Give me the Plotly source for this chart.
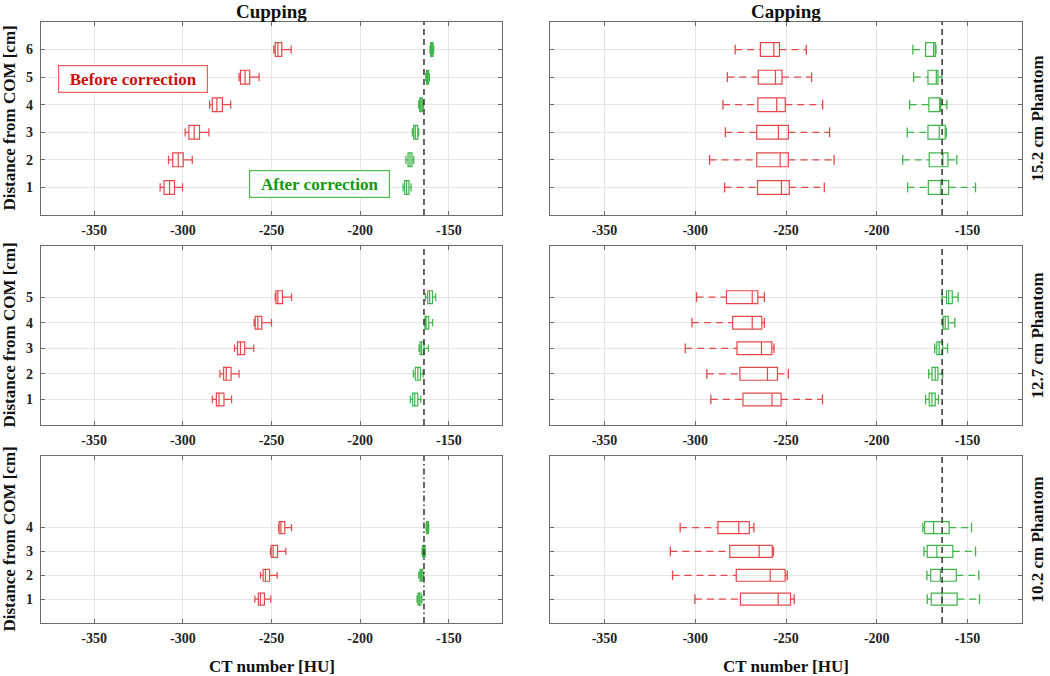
import plotly.graph_objects as go

# ---------------- data (HU): rows = distance from COM 1..n, tuples = (low whisker, q1, median, q3, high whisker)
cup152_before = [(-312.8, -310.6, -307.5, -304.7, -300.2), (-308.1, -305.7, -302.6, -299.8, -294.7),
                 (-298.7, -296.6, -293.6, -290.6, -285.3), (-284.9, -283.4, -280.8, -277.7, -273.0),
                 (-268.3, -267.5, -264.9, -262.3, -257.0), (-248.7, -247.9, -246.4, -244.2, -238.9)]
cup152_after = [(-175.8, -174.9, -173.8, -172.5, -171.3), (-174.2, -173.0, -171.9, -170.8, -169.8),
                (-170.6, -169.8, -168.9, -167.5, -167.0), (-167.0, -166.4, -165.7, -164.9, -164.2),
                (-163.0, -162.6, -162.1, -161.3, -160.9), (-160.6, -160.2, -159.6, -158.9, -158.5)]
cap152_before = [(-283.8, -265.7, -252.5, -248.2, -228.9), (-292.1, -266.1, -253.2, -248.7, -223.5),
                 (-283.4, -266.1, -254.2, -248.7, -226.0), (-284.7, -265.5, -255.1, -250.4, -229.8),
                 (-282.3, -265.3, -255.8, -252.2, -235.9), (-278.0, -264.1, -256.7, -253.6, -238.8)]
cap152_after = [(-183.0, -171.6, -164.7, -160.4, -145.6), (-185.7, -171.1, -163.6, -160.8, -155.9),
                (-183.2, -171.8, -165.6, -162.3, -161.7), (-181.9, -171.3, -165.4, -164.7, -161.4),
                (-179.7, -171.8, -167.2, -166.3, -164.1), (-180.1, -173.1, -168.7, -167.8, -167.4)]

cup127_before = [(-283.4, -281.1, -279.6, -276.8, -272.5), (-279.1, -277.0, -275.5, -272.8, -268.3),
                 (-270.9, -269.2, -267.5, -265.1, -260.0), (-259.8, -259.2, -257.7, -255.5, -250.0),
                 (-247.9, -247.5, -246.4, -243.8, -238.7)]
cup127_after = [(-171.7, -170.4, -169.2, -167.5, -165.8), (-170.0, -168.9, -167.5, -166.0, -164.5),
                (-166.8, -166.2, -165.3, -164.0, -161.5), (-163.8, -163.4, -162.8, -161.3, -159.1),
                (-163.2, -161.9, -160.8, -159.2, -157.4)]
cap127_before = [(-291.4, -273.7, -257.7, -252.7, -229.9), (-293.6, -275.4, -260.2, -254.7, -248.7),
                 (-305.5, -277.0, -263.5, -257.8, -256.6), (-301.8, -279.4, -268.6, -263.3, -261.9),
                 (-299.3, -282.8, -268.6, -265.5, -261.9)]
cap127_after = [(-173.1, -171.1, -169.6, -167.8, -166.0), (-171.4, -169.6, -167.8, -166.3, -163.7),
                (-168.1, -166.9, -165.6, -163.7, -161.0), (-163.6, -163.4, -162.3, -160.6, -157.0),
                (-164.0, -161.6, -160.4, -158.4, -155.2)]

cup102_before = [(-259.4, -257.4, -256.2, -254.0, -250.4), (-256.2, -254.7, -253.4, -251.1, -246.8),
                 (-250.6, -250.2, -249.1, -246.6, -241.9), (-246.0, -245.7, -244.7, -242.5, -238.7)]
cup102_after = [(-167.9, -167.4, -166.6, -165.7, -165.1), (-167.0, -166.2, -165.5, -164.7, -164.2),
                (-165.1, -164.7, -164.2, -163.4, -163.2), (-162.8, -162.6, -162.1, -161.5, -161.3)]
cap102_before = [(-300.2, -275.1, -254.3, -247.5, -245.5), (-312.5, -277.4, -258.7, -250.5, -249.3),
                 (-313.7, -281.0, -264.8, -257.6, -256.9), (-308.3, -287.5, -276.0, -270.2, -267.7)]
cap102_after = [(-172.2, -170.0, -164.1, -155.7, -143.4), (-172.4, -170.3, -165.0, -156.2, -143.8),
                (-174.0, -172.2, -166.9, -158.1, -145.6), (-174.6, -173.6, -168.7, -160.1, -147.8)]

reference_hu = -164.0
x_tickvals = [-350, -300, -250, -200, -150]
x_ticklabels = ["-350", "-300", "-250", "-200", "-150"]
column_titles = ["Cupping", "Capping"]
row_titles = ["15.2 cm Phantom", "12.7 cm Phantom", "10.2 cm Phantom"]
x_title = "CT number [HU]"
y_title = "Distance from COM [cm]"

# ---------------- styling / layout (pixel geometry of the 1050x676 canvas)
W, H = 1050, 676
RED = "#e5474a"
GREEN = "#3fb449"
FONT = "Liberation Serif"


def px_x(p):
    return p / W


def px_y(p):
    return 1 - p / H


X_DOMAINS = [[px_x(41), px_x(502)], [px_x(550), px_x(1022)]]
Y_DOMAINS = [[px_y(215), px_y(22)], [px_y(425), px_y(246)], [px_y(623), px_y(456)]]

panels = [
    [(cup152_before, cup152_after), (cap152_before, cap152_after)],
    [(cup127_before, cup127_after), (cap127_before, cap127_after)],
    [(cup102_before, cup102_after), (cap102_before, cap102_after)],
]

fig = go.Figure()


def add_series(stats, color, k, dashed):
    xa = "x" if k == 1 else f"x{k}"
    ya = "y" if k == 1 else f"y{k}"
    pos = list(range(1, len(stats) + 1))
    lo = [s[0] for s in stats]
    q1 = [s[1] for s in stats]
    med = [s[2] for s in stats]
    q3 = [s[3] for s in stats]
    hi = [s[4] for s in stats]
    if not dashed:
        fig.add_trace(go.Box(y=pos, q1=q1, median=med, q3=q3, lowerfence=lo, upperfence=hi,
                             orientation="h", width=0.5, whiskerwidth=0.6, boxpoints=False,
                             line=dict(color=color, width=1.2), fillcolor="rgba(0,0,0,0)",
                             xaxis=xa, yaxis=ya, hoverinfo="skip", showlegend=False))
        return
    fig.add_trace(go.Box(y=pos, q1=q1, median=med, q3=q3, lowerfence=q1, upperfence=q3,
                         orientation="h", width=0.5, whiskerwidth=0, boxpoints=False,
                         line=dict(color=color, width=1.2), fillcolor="rgba(0,0,0,0)",
                         xaxis=xa, yaxis=ya, hoverinfo="skip", showlegend=False))
    wx, wy = [], []
    for p, a, b, c, d in zip(pos, lo, q1, q3, hi):
        wx += [a, b, None, c, d, None]
        wy += [p, p, None, p, p, None]
    fig.add_trace(go.Scatter(x=wx, y=wy, mode="lines", line=dict(color=color, width=1.3, dash="7px,5px"),
                             xaxis=xa, yaxis=ya, hoverinfo="skip", showlegend=False))
    fig.add_trace(go.Scatter(x=lo + hi, y=pos + pos, mode="markers",
                             marker=dict(symbol="line-ns", size=7, line=dict(color=color, width=1.3)),
                             xaxis=xa, yaxis=ya, hoverinfo="skip", showlegend=False))


layout_axes = {}
for r in range(3):
    for c in range(2):
        k = r * 2 + c + 1
        before, after = panels[r][c]
        dashed = (c == 1)
        add_series(before, RED, k, dashed)
        add_series(after, GREEN, k, dashed)
        xa = "x" if k == 1 else f"x{k}"
        ya = "y" if k == 1 else f"y{k}"
        fig.add_trace(go.Scatter(x=[reference_hu, reference_hu], y=[0, 7], mode="lines",
                                 line=dict(color="#333333", width=1.5,
                                           dash="6px,3px,1.5px,3px" if (r == 2 and c == 0) else "6px,4px"),
                                 xaxis=xa, yaxis=ya, hoverinfo="skip", showlegend=False))
        n = len(before)
        axis_common = dict(showline=True, linecolor="#6b6b6b", linewidth=1.3, mirror="ticks",
                           ticks="inside", ticklen=4, tickcolor="#6b6b6b", showgrid=True,
                           gridcolor="#e4e4e4", gridwidth=1, zeroline=False,
                           tickfont=dict(family=FONT, size=14, color="#222222", weight="bold"))
        layout_axes["xaxis" if k == 1 else f"xaxis{k}"] = dict(
            domain=X_DOMAINS[c], range=[-380, -120], tickvals=x_tickvals, ticktext=x_ticklabels,
            anchor=ya, ticklabelstandoff=2, **axis_common)
        layout_axes["yaxis" if k == 1 else f"yaxis{k}"] = dict(
            domain=Y_DOMAINS[r], range=[0, 7], tickvals=list(range(1, n + 1)),
            showticklabels=(c == 0), anchor=xa, ticklabelstandoff=4, **axis_common)

fig.update_layout(width=W, height=H, margin=dict(l=0, r=0, t=0, b=0),
                  paper_bgcolor="white", plot_bgcolor="white", showlegend=False,
                  boxmode="overlay", **layout_axes)

ann = []
title_font = dict(family=FONT, size=19, color="#111111", weight="bold")
label_font = dict(family=FONT, size=17, color="#111111", weight="bold")
for c in range(2):
    xc = (X_DOMAINS[c][0] + X_DOMAINS[c][1]) / 2
    ann.append(dict(text=column_titles[c], x=xc, y=px_y(11), xref="paper", yref="paper",
                    showarrow=False, font=title_font, xanchor="center", yanchor="middle"))
    ann.append(dict(text=x_title, x=xc, y=px_y(666), xref="paper", yref="paper",
                    showarrow=False, font=label_font, xanchor="center", yanchor="middle"))
for r in range(3):
    yc = (Y_DOMAINS[r][0] + Y_DOMAINS[r][1]) / 2
    ann.append(dict(text=y_title, x=px_x(9), y=yc, xref="paper", yref="paper", textangle=-90,
                    showarrow=False, font=label_font, xanchor="center", yanchor="middle"))
    ann.append(dict(text=row_titles[r], x=px_x(1037), y=yc, xref="paper", yref="paper", textangle=-90,
                    showarrow=False, font=label_font, xanchor="center", yanchor="middle"))

ann.append(dict(text="Before correction", x=-327.9, y=4.93, xref="x", yref="y", showarrow=False,
                font=dict(family=FONT, size=17, color="#cc1010", weight="bold"),
                bordercolor="#e86060", borderwidth=1.2, bgcolor="white", width=144, height=22, borderpad=2))
ann.append(dict(text="After correction", x=-223.1, y=1.12, xref="x", yref="y", showarrow=False,
                font=dict(family=FONT, size=17, color="#119a11", weight="bold"),
                bordercolor="#50bb50", borderwidth=1.2, bgcolor="white", width=135, height=22, borderpad=2))
fig.update_layout(annotations=ann)

fig.write_html("out.html", config={"displayModeBar": False},
               post_script="document.body.style.margin='0px';")
